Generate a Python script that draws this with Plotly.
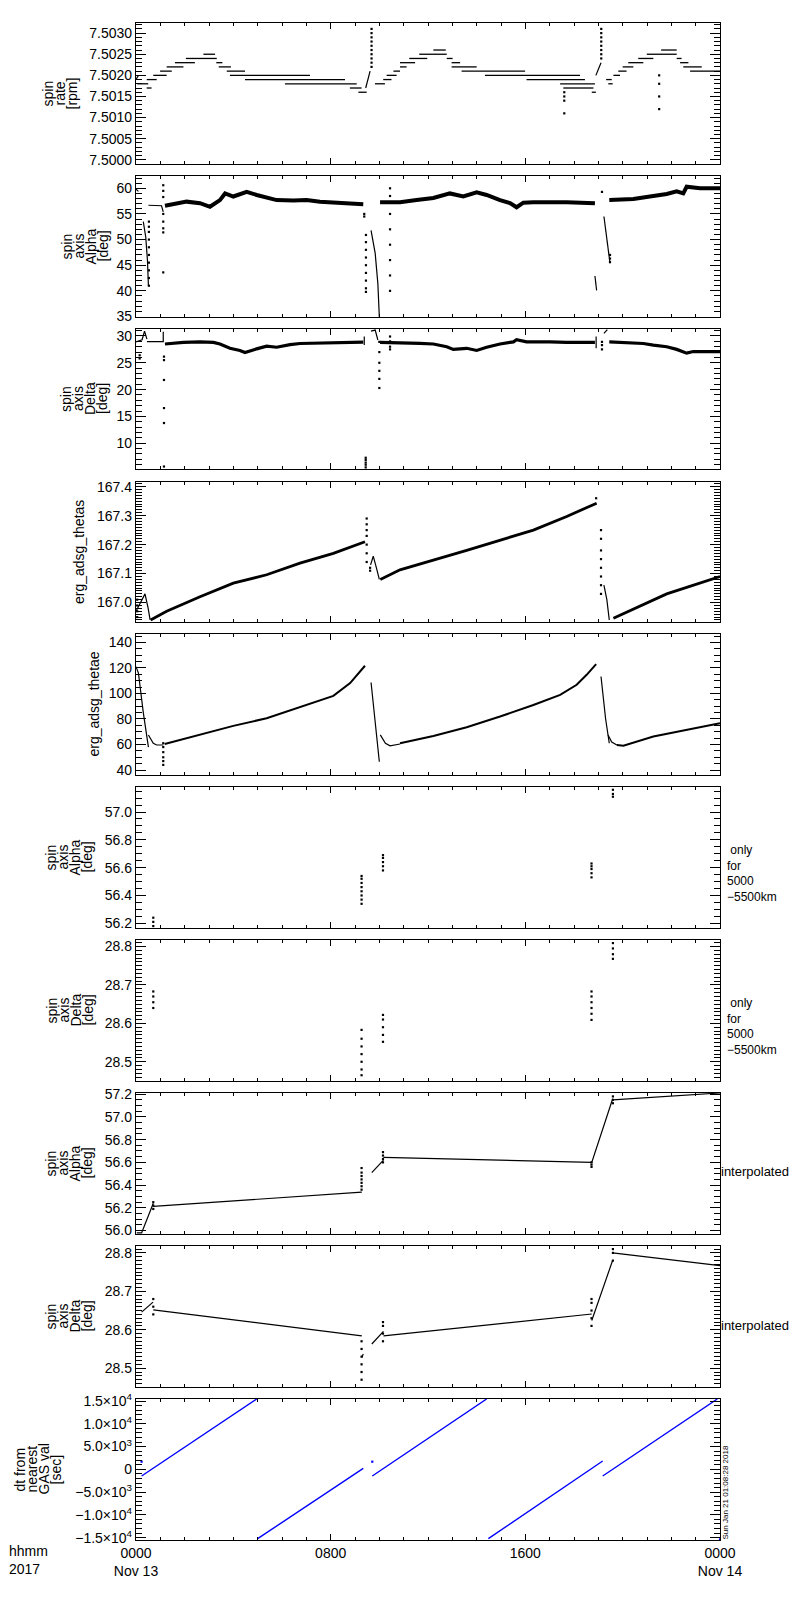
import plotly.graph_objects as go

# time axis: hours after 2017-11-13 0000 UT
X_TICKS = [0, 8, 16, 24]
X_TICK_TEXT = ['0000<br>Nov 13', '0800', '1600', '0000<br>Nov 14']

# ---- panel 1: spin rate [rpm], quantised steps (start, end, level)
RATE_T0 = [0.05, 0.44, 0.44, 0.71, 0.99, 1.26, 1.60, 2.05, 2.77, 3.30, 3.40, 3.73, 3.86, 4.48, 6.12, 8.79,
           9.14, 9.82, 10.16, 10.30, 10.58, 10.85, 10.85, 11.23, 11.64, 12.22, 12.77, 12.97, 12.97, 13.38,
           14.34, 16.05, 17.43, 17.56, 18.73, 19.32, 19.41, 19.62, 19.82, 20.00, 20.23, 20.64, 20.99, 21.58,
           22.22, 22.36, 22.49, 22.77]
RATE_T1 = [0.50, 0.64, 0.85, 1.26, 1.47, 1.95, 2.42, 3.32, 3.25, 3.55, 3.90, 4.48, 7.15, 8.59, 9.07, 9.27,
           9.48, 10.23, 10.50, 10.71, 10.85, 11.12, 11.47, 11.97, 12.77, 12.73, 13.01, 13.32, 14.00, 15.99,
           18.25, 18.45, 18.86, 18.80, 18.90, 19.55, 19.59, 19.89, 20.16, 20.44, 20.85, 21.26, 22.22, 22.22,
           22.42, 22.70, 23.25, 24.00]
RATE_LEVEL = [7.5018, 7.5017, 7.5019, 7.5020, 7.5021, 7.5022, 7.5023, 7.5024, 7.5025, 7.5023, 7.5022,
              7.5021, 7.5020, 7.5019, 7.5018, 7.5017, 7.5016, 7.5018, 7.5019, 7.5020, 7.5021, 7.5022,
              7.5023, 7.5024, 7.5025, 7.5026, 7.5024, 7.5023, 7.5022, 7.5021, 7.5020, 7.5019, 7.5018,
              7.5017, 7.5016, 7.5019, 7.5018, 7.5020, 7.5021, 7.5022, 7.5023, 7.5024, 7.5025, 7.5026,
              7.5024, 7.5023, 7.5022, 7.5021]
RATE_LINE_T = [0.00, 0.10, None, 9.44, 9.62, None, 18.90, 19.11]
RATE_LINE_V = [7.5019, 7.5020, None, 7.5017, 7.5021, None, 7.5020, 7.5023]
RATE_DOT_T = [9.68, 19.12, 17.60, 21.50]
RATE_DOT_V = [[7.5022, 7.5023, 7.5024, 7.5025, 7.5026, 7.5027, 7.5028, 7.5029, 7.5030, 7.5031],
              [7.5024, 7.5025, 7.5026, 7.5027, 7.5028, 7.5029, 7.5030, 7.5031],
              [7.5016, 7.5015, 7.5014, 7.5011],
              [7.5020, 7.5018, 7.5015, 7.5012]]

# ---- panel 2: spin axis Alpha [deg]
ALPHA_BAND_T = [1.19, 1.53, 2.08, 2.63, 3.04, 3.45, 3.66, 4.00, 4.55, 4.96, 5.37, 5.78, 6.47, 7.01, 7.56,
                8.11, 8.79, 9.34, None,
                10.03, 10.85, 11.53, 12.22, 12.90, 13.45, 14.00, 14.41, 14.96, 15.37, 15.64, 15.92, 16.33,
                17.01, 17.70, 18.86, None,
                19.45, 20.44, 21.12, 21.81, 22.22, 22.49, 22.63, 23.18, 24.00]
ALPHA_BAND_V = [56.6, 56.9, 57.4, 57.1, 56.4, 57.7, 59.0, 58.4, 59.3, 58.7, 58.2, 57.7, 57.6, 57.7, 57.4,
                57.3, 57.1, 56.9, None,
                57.3, 57.3, 57.7, 58.1, 59.0, 58.4, 59.2, 58.7, 57.7, 57.1, 56.3, 57.2, 57.3,
                57.3, 57.3, 57.1, None,
                57.7, 57.9, 58.4, 58.9, 59.4, 59.0, 60.3, 60.0, 60.0]
ALPHA_LINE_T = [0.00, 0.10, None, 0.30, 0.40, 0.47, 0.51, None, 0.51, 1.05, 1.12, None,
                9.66, 9.83, 9.94, 10.00, None, 18.86, 18.93, None, 19.23, 19.35, 19.48]
ALPHA_LINE_V = [59.8, 59.4, None, 53.5, 50.5, 46.0, 41.0, None, 56.7, 56.6, 55.4, None,
                51.8, 47.3, 41.4, 34.9, None, 42.9, 40.1, None, 54.5, 50.0, 45.4]
ALPHA_DOT_T = [0.53, 1.12, 9.38, 9.45, 10.44, 19.15, 19.48]
ALPHA_DOT_V = [[53.5, 52.5, 51.5, 50.0, 48.5, 47.0, 45.5, 44.0, 42.5, 41.0],
               [60.6, 59.5, 58.3, 55.0, 53.5, 52.2, 51.4, 43.6],
               [55.0, 54.5],
               [50.9, 49.5, 48.0, 46.5, 45.0, 43.5, 42.0, 40.5, 39.8],
               [60.0, 58.5, 55.0, 52.0, 49.0, 46.0, 43.0, 40.0],
               [59.3],
               [47.0, 46.3, 45.6]]

# ---- panel 3: spin axis Delta [deg]
DELTA_BAND_T = [1.19, 1.95, 2.63, 3.18, 3.45, 3.86, 4.27, 4.48, 4.96, 5.37, 5.78, 6.33, 6.74, 8.11, 9.34, None,
                10.03, 10.85, 11.67, 12.22, 12.77, 13.04, 13.59, 14.00, 14.41, 14.96, 15.51, 15.64, 16.05,
                17.01, 17.70, 18.86, None,
                19.45, 20.44, 20.85, 21.26, 21.81, 22.22, 22.63, 22.90, 23.45, 24.00]
DELTA_BAND_V = [28.5, 28.8, 28.9, 28.8, 28.5, 27.7, 27.3, 26.9, 27.6, 28.1, 27.9, 28.4, 28.6, 28.8, 28.85, None,
                28.8, 28.76, 28.63, 28.5, 28.0, 27.5, 27.7, 27.3, 27.9, 28.5, 28.9, 29.3, 28.9,
                28.9, 28.8, 28.8, None,
                28.9, 28.6, 28.6, 28.3, 28.0, 27.5, 26.8, 27.1, 27.1, 27.1]
DELTA_LINE_T = [0.00, 0.25, 0.35, 0.45, None, 0.45, 1.12, 1.12, None, 9.38, 9.38, None,
                9.66, 9.83, 9.94, None, 18.91, 18.91, None, 19.23, 19.37]
DELTA_LINE_V = [28.9, 29.3, 30.9, 29.4, None, 28.94, 28.94, 30.8, None, 29.9, 28.3, None,
                30.9, 31.1, 29.25, None, 29.9, 27.7, None, 30.5, 31.2]
DELTA_DOT_T = [0.15, 1.15, 9.44, 10.00, 10.44, 19.15]
DELTA_DOT_V = [[25.8, 26.4],
               [26.15, 25.5, 21.8, 16.56, 13.77, 5.66],
               [7.3, 6.9, 6.4, 6.0, 5.5],
               [28.9, 27.0, 25.0, 23.5, 22.0, 20.3],
               [29.9, 29.0, 28.0, 27.5],
               [28.9, 28.3, 27.5]]

# ---- panel 4: erg_adsg_thetas
THETAS_BAND_T = [0.60, 1.26, 2.63, 4.00, 5.37, 6.74, 8.11, 9.41, None,
                 10.04, 10.85, 13.59, 16.33, 17.70, 18.93, None, 19.62, 21.81, 24.00]
THETAS_BAND_V = [166.94, 166.97, 167.02, 167.067, 167.096, 167.136, 167.17, 167.21, None,
                 167.08, 167.113, 167.18, 167.25, 167.297, 167.343, None, 166.946, 167.03, 167.09]
THETAS_LINE_T = [0.00, 0.20, 0.37, 0.50, 0.58, None, 9.64, 9.75, 9.88, 10.00, None, 19.23, 19.35, 19.45]
THETAS_LINE_V = [166.97, 167.00, 167.03, 166.98, 166.94, None, 167.13, 167.16, 167.12, 167.08, None,
                 167.06, 167.01, 166.94]
THETAS_DOT_T = [0.05, 9.48, 9.62, 18.91, 19.11]
THETAS_DOT_V = [[166.95, 166.97, 166.99, 167.01],
                [167.29, 167.27, 167.25, 167.23, 167.20, 167.17, 167.14],
                [167.12, 167.11],
                [167.36],
                [167.25, 167.22, 167.18, 167.15, 167.12, 167.09, 167.06, 167.03]]

# ---- panel 5: erg_adsg_thetae
THETAE_BAND_T = [1.18, 2.63, 4.00, 5.37, 6.74, 8.11, 8.80, 9.41, None,
                 10.85, 12.22, 13.59, 14.96, 16.33, 17.43, 18.11, 18.52, 18.91, None,
                 19.76, 20.03, 21.26, 22.63, 24.00]
THETAE_BAND_V = [60.4, 67.5, 74.6, 80.6, 89.3, 98.1, 108.1, 121.7, None,
                 61.0, 66.7, 73.5, 81.9, 91.0, 98.9, 106.8, 114.6, 123.0, None,
                 59.6, 59.1, 66.2, 71.4, 76.7]
THETAE_LINE_T = [0.00, 0.10, 0.30, 0.51, None, 0.51, 0.71, 0.85, 1.12, None, 9.66, 9.85, 10.00, None,
                 10.04, 10.25, 10.44, 10.85, None, 19.11, 19.30, 19.45, None, 19.40, 19.55, 19.76]
THETAE_LINE_V = [121.0, 116.0, 85.0, 58.0, None, 67.5, 61.0, 59.6, 59.6, None, 108.6, 75.0, 46.5, None,
                 67.5, 61.0, 59.0, 60.4, None, 113.3, 80.0, 61.0, None, 67.5, 62.0, 59.6]
THETAE_DOT_T = [1.12]
THETAE_DOT_V = [[61.0, 58.0, 54.0, 50.0, 47.0, 44.0]]

# ---- panel 6/7: spin axis only for 5000-5500 km
ONLY_T = [0.71, 9.27, 10.15, 18.72, 19.60]
ONLY_ALPHA_V = [[56.18, 56.21, 56.24],
                [56.34, 56.37, 56.40, 56.43, 56.46, 56.49, 56.52, 56.54],
                [56.58, 56.61, 56.64, 56.67, 56.69],
                [56.53, 56.56, 56.59, 56.61, 56.63],
                [57.11, 57.13, 57.16]]
ONLY_DELTA_V = [[28.64, 28.655, 28.67, 28.683],
                [28.465, 28.48, 28.50, 28.52, 28.54, 28.56, 28.583],
                [28.552, 28.57, 28.59, 28.61, 28.622],
                [28.609, 28.625, 28.64, 28.655, 28.67, 28.683],
                [28.768, 28.78, 28.795, 28.809]]

# ---- panel 8/9: interpolated spin axis
INTERP_ALPHA_T = [0.03, 0.23, 0.71, None, 0.71, 9.28, None, 9.69, 10.17, None,
                  10.17, 18.73, 19.59, None, 19.59, 24.00]
INTERP_ALPHA_V = [55.98, 55.98, 56.24, None, 56.213, 56.338, None, 56.51, 56.62, None,
                  56.643, 56.60, 57.16, None, 57.15, 57.21]
INTERP_DELTA_T = [0.23, 0.70, None, 0.71, 9.28, None, 9.28, 9.34, None, 9.69, 10.17, None,
                  10.17, 18.73, None, 18.73, 19.59, None, 19.59, 24.00]
INTERP_DELTA_V = [28.646, 28.672, None, 28.652, 28.584, None, 28.528, 28.537, None, 28.563, 28.596, None,
                  28.584, 28.641, None, 28.624, 28.781, None, 28.80, 28.767]
INTERP_ALPHA_DOT_V = [[56.19, 56.22, 56.25],
                      [56.36, 56.39, 56.42, 56.45, 56.48, 56.51, 56.55],
                      [56.60, 56.63, 56.66, 56.69],
                      [56.56, 56.58, 56.60],
                      [57.12, 57.15, 57.18]]
INTERP_DELTA_DOT_V = [[28.64, 28.66, 28.68],
                      [28.47, 28.49, 28.51, 28.53, 28.55, 28.57],
                      [28.57, 28.59, 28.61, 28.62],
                      [28.61, 28.63, 28.65, 28.67, 28.68],
                      [28.78, 28.80, 28.81]]

# ---- panel 10: dt from nearest GAS val [sec]
DT_T = [0.23, 4.96, None, 5.00, 9.34, None, 9.71, 14.41, None, 14.48, 19.18, None, 19.18, 23.89]
DT_V = [-1464, 15450, None, -15230, 220, None, -1464, 15450, None, -15230, 1830, None, -1464, 15450]
DT_DOT_T = [0.23, 9.71, 24.0]
DT_DOT_V = [[1680], [1680], [-15400]]

# axis settings per panel
Y_RANGES = [[7.49990, 7.50324], [34.9, 62.4], [5.2, 31.3], [166.933, 167.416], [36.1, 146.6],
            [56.166, 57.18], [28.45, 28.817], [55.97, 57.21], [28.451, 28.818], [-15520, 15450]]
Y_TICK0 = [7.5, 40, 10, 167.0, 40, 56.2, 28.5, 56.0, 28.5, -15000]
Y_DTICK = [0.0005, 5, 5, 0.1, 20, 0.2, 0.1, 0.2, 0.1, 5000]
Y_MINOR = [0.0001, 1, 1, 0.01, 5, 0.05, 0.01, 0.05, 0.01, 1000]
Y_FORMAT = ['.4f', 'd', 'd', '.1f', 'd', '.1f', '.1f', '.1f', '.1f', '']
DT_TICKS = [-15000, -10000, -5000, 0, 5000, 10000, 15000]
DT_TICK_TEXT = ['\u22121.5\u00d710<sup>4</sup>', '\u22121.0\u00d710<sup>4</sup>', '\u22125.0\u00d710<sup>3</sup>',
                '0', '5.0\u00d710<sup>3</sup>', '1.0\u00d710<sup>4</sup>', '1.5\u00d710<sup>4</sup>']
Y_TITLES = [['spin', 'rate', '[rpm]'], ['spin', 'axis', 'Alpha', '[deg]'], ['spin', 'axis', 'Delta', '[deg]'],
            ['erg_adsg_thetas'], ['erg_adsg_thetae'], ['spin', 'axis', 'Alpha', '[deg]'],
            ['spin', 'axis', 'Delta', '[deg]'], ['spin', 'axis', 'Alpha', '[deg]'],
            ['spin', 'axis', 'Delta', '[deg]'], ['dt from', 'nearest', 'GAS val', '[sec]']]

# page layout in pixels
W, H = 800, 1600
X_LEFT, X_RIGHT = 136, 720
PANEL_TOP = [23, 176, 329, 482, 634, 787, 940, 1093, 1246, 1399]
PANEL_BOTTOM = [164, 317, 469, 622, 775, 928, 1081, 1234, 1387, 1540]
TITLE_X0 = [47, 66, 66, 79, 93, 51, 51, 50, 50, 19]
FONT = 'Liberation Sans'

fig = go.Figure()


def ax_ids(i: int) -> tuple[str, str]:
    """Return the trace axis ids of panel i (0-based)."""
    return ('x', 'y') if i == 0 else (f'x{i + 1}', f'y{i + 1}')


def add_line(i: int, t: list, v: list, width: float, color: str = 'black') -> None:
    xa, ya = ax_ids(i)
    fig.add_trace(go.Scatter(x=t, y=v, mode='lines', xaxis=xa, yaxis=ya,
                             line=dict(color=color, width=width), connectgaps=False,
                             showlegend=False, hoverinfo='skip'))


def add_dots(i: int, times: list, values: list, color: str = 'black') -> None:
    xa, ya = ax_ids(i)
    xs = [t for t, vs in zip(times, values) for _ in vs]
    ys = [v for vs in values for v in vs]
    fig.add_trace(go.Scatter(x=xs, y=ys, mode='markers', xaxis=xa, yaxis=ya,
                             marker=dict(color=color, size=2.2, symbol='square', line=dict(width=0)),
                             showlegend=False, hoverinfo='skip', cliponaxis=True))


# panel 1 steps
step_x, step_y = [], []
for t0, t1, lv in zip(RATE_T0, RATE_T1, RATE_LEVEL):
    step_x += [t0, t1, None]
    step_y += [lv, lv, None]
add_line(0, step_x, step_y, 1.3)
add_line(0, RATE_LINE_T, RATE_LINE_V, 1.2)
add_dots(0, RATE_DOT_T, RATE_DOT_V)

add_line(1, ALPHA_BAND_T, ALPHA_BAND_V, 4)
add_line(1, ALPHA_LINE_T, ALPHA_LINE_V, 1.2)
add_dots(1, ALPHA_DOT_T, ALPHA_DOT_V)

add_line(2, DELTA_BAND_T, DELTA_BAND_V, 3.2)
add_line(2, DELTA_LINE_T, DELTA_LINE_V, 1.2)
add_dots(2, DELTA_DOT_T, DELTA_DOT_V)

add_line(3, THETAS_BAND_T, THETAS_BAND_V, 2.8)
add_line(3, THETAS_LINE_T, THETAS_LINE_V, 1.2)
add_dots(3, THETAS_DOT_T, THETAS_DOT_V)

add_line(4, THETAE_BAND_T, THETAE_BAND_V, 2)
add_line(4, THETAE_LINE_T, THETAE_LINE_V, 1.2)
add_dots(4, THETAE_DOT_T, THETAE_DOT_V)

add_dots(5, ONLY_T, ONLY_ALPHA_V)
add_dots(6, ONLY_T, ONLY_DELTA_V)

add_line(7, INTERP_ALPHA_T, INTERP_ALPHA_V, 1.2)
add_dots(7, ONLY_T, INTERP_ALPHA_DOT_V)
add_line(8, INTERP_DELTA_T, INTERP_DELTA_V, 1.2)
add_dots(8, ONLY_T, INTERP_DELTA_DOT_V)

add_line(9, DT_T, DT_V, 1.4, color='#0000ff')
add_dots(9, DT_DOT_T, DT_DOT_V, color='#0000ff')

# axes
layout = {}
annotations = []
for i in range(10):
    xkey = 'xaxis' if i == 0 else f'xaxis{i + 1}'
    ykey = 'yaxis' if i == 0 else f'yaxis{i + 1}'
    xa, ya = ax_ids(i)
    last = i == 9
    layout[xkey] = dict(domain=[X_LEFT / W, X_RIGHT / W], anchor=ya, range=[0, 24],
                        tickmode='array', tickvals=X_TICKS, ticktext=X_TICK_TEXT,
                        showticklabels=last, ticks='inside', ticklen=6, tickwidth=1,
                        tickcolor='black', minor=dict(dtick=1, tick0=0, ticks='inside', ticklen=3,
                                                      tickcolor='black', tickwidth=1),
                        showline=True, linecolor='black', linewidth=1.3, mirror='allticks',
                        showgrid=False, zeroline=False, automargin=False,
                        tickfont=dict(family=FONT, size=14, color='black'))
    ydict = dict(domain=[1 - PANEL_BOTTOM[i] / H, 1 - PANEL_TOP[i] / H], anchor=xa,
                 range=Y_RANGES[i], ticks='inside', ticklen=10, tickwidth=1, tickcolor='black',
                 minor=dict(dtick=Y_MINOR[i], tick0=Y_TICK0[i], ticks='inside', ticklen=6,
                            tickcolor='black', tickwidth=1),
                 showline=True, linecolor='black', linewidth=1.3, mirror='allticks',
                 showgrid=False, zeroline=False, automargin=False,
                 tickfont=dict(family=FONT, size=14, color='black'))
    if last:
        ydict.update(tickmode='array', tickvals=DT_TICKS, ticktext=DT_TICK_TEXT)
    else:
        ydict.update(tickmode='linear', tick0=Y_TICK0[i], dtick=Y_DTICK[i], tickformat=Y_FORMAT[i])
    layout[ykey] = ydict

    # stacked y titles, one rotated column per line
    mid = (PANEL_TOP[i] + PANEL_BOTTOM[i]) / 2
    for k, line in enumerate(Y_TITLES[i]):
        annotations.append(dict(text=line, x=(TITLE_X0[i] + 12 * k) / W, y=1 - mid / H,
                                xref='paper', yref='paper', textangle=-90, showarrow=False,
                                xanchor='center', yanchor='middle',
                                font=dict(family=FONT, size=14, color='black')))


def note(text: str, px: float, py: float, anchor: str = 'left', size: int = 13, angle: float = 0) -> None:
    annotations.append(dict(text=text, x=px / W, y=1 - py / H, xref='paper', yref='paper',
                            showarrow=False, xanchor=anchor, yanchor='middle', textangle=angle,
                            align='left', font=dict(family=FONT, size=size, color='black')))


# right-hand side notes
for top in (PANEL_TOP[5], PANEL_TOP[6]):
    note(' only<br>for<br>5000<br>\u22125500km', 725, top + 86, size=12)
note('interpolated', 719, 1171.7)
note('interpolated', 719, 1325)

# bottom labels
note('hhmm<br>2017', 7, 1560, size=14)
note('Sun Jan 21 01:08:28 2018', 724.5, 1493, anchor='center', size=8, angle=-90)

fig.update_layout(width=W, height=H, margin=dict(l=0, r=0, t=0, b=0), autosize=False,
                  paper_bgcolor='white', plot_bgcolor='white', showlegend=False,
                  annotations=annotations, **layout)

fig.write_html('out.html', config={'displayModeBar': False},
               post_script="document.body.style.margin='0';document.body.style.padding='0';")
